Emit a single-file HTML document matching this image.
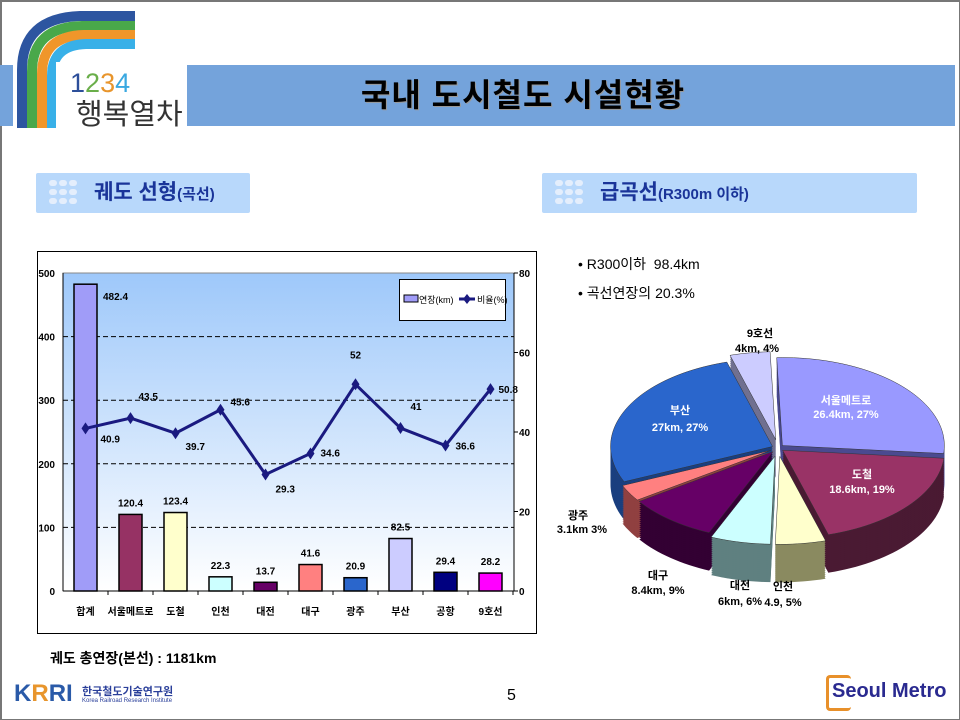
<!DOCTYPE html>
<html><head><meta charset="utf-8">
<style>
body{margin:0;width:960px;height:720px;overflow:hidden;background:#fff;font-family:"Liberation Sans","Noto Sans CJK KR",sans-serif;}
#s{position:absolute;left:0;top:0;border:1px solid #777;border-left-width:2px;border-top-width:2px;box-sizing:border-box;width:960px;height:720px;}
.band{position:absolute;background:#74a3db;top:65px;height:61px;}
.title{position:absolute;left:323px;width:400px;top:65px;height:61px;line-height:61px;text-align:center;font-size:32px;font-weight:bold;color:#000;text-shadow:1px 1px 0 #999;letter-spacing:1px}
.sec{position:absolute;top:173px;height:40px;background:#b8d8fb;border-radius:2px}
.sec .t{position:absolute;left:58px;top:0;line-height:40px;font-size:21px;font-weight:bold;color:#1a3499;white-space:nowrap}
.sec .t small{font-size:15px}
.dots{position:absolute;left:13px;top:7px;width:30px;height:26px}
.dots i{position:absolute;width:8px;height:6px;border-radius:3px;background:#e4eefc}
.txt{position:absolute;font-size:14px;color:#000;white-space:nowrap}
</style></head><body>
<div id="s"></div>
<div class="band" style="left:0;width:13px"></div>
<div class="band" style="left:187px;width:768px"></div>
<div class="title">국내 도시철도 시설현황</div>
<svg style="position:absolute;left:0;top:0" width="190" height="130">
<path d="M22 128 V70 Q22 18 80 16 H135" stroke="#2d55a0" stroke-width="10" fill="none"/>
<path d="M32 128 V72 Q32 27 82 26 H135" stroke="#49a84a" stroke-width="10" fill="none"/>
<path d="M42 128 V74 Q42 36 84 35 H135" stroke="#f0962a" stroke-width="10" fill="none"/>
<path d="M52 128 V76 Q52 45 86 44 H135" stroke="#38b0e8" stroke-width="10" fill="none"/>
<rect x="56" y="62" width="130" height="66" fill="#fff"/>
<text x="70" y="92" font-size="27" font-family="Liberation Sans" ><tspan fill="#2d4f9a">1</tspan><tspan fill="#6aae4a">2</tspan><tspan fill="#e8952c">3</tspan><tspan fill="#3aa8e0">4</tspan></text>
<text x="76" y="124" font-size="29" fill="#333" font-family="Liberation Sans, Noto Sans CJK KR, sans-serif">행복열차</text>
</svg>
<div class="sec" style="left:36px;width:214px"><div class="dots" id="d1"></div><div class="t">궤도 선형<small>(곡선)</small></div></div>
<div class="sec" style="left:542px;width:375px"><div class="dots" id="d2"></div><div class="t">급곡선<small>(R300m 이하)</small></div></div>
<div class="txt" style="left:578px;top:254px">• R300이하 &nbsp;98.4km</div>
<div class="txt" style="left:578px;top:283px">• 곡선연장의 20.3%</div>
<div class="txt" style="left:50px;top:648px;font-weight:bold">궤도 총연장(본선) : 1181km</div>
<div class="txt" style="left:507px;top:687px;font-size:16px">5</div>
<svg id="chart" style="position:absolute;left:0;top:0" width="960" height="720"></svg>
<div style="position:absolute;left:14px;top:680px;font-size:24px;font-weight:bold;color:#2a5aa8;font-family:'Liberation Sans'">K<span style="color:#e8952c">R</span>RI</div>
<div style="position:absolute;left:82px;top:683px;font-size:11px;color:#2a3f9a;font-weight:bold">한국철도기술연구원</div>
<div style="position:absolute;left:82px;top:698px;font-size:6px;color:#2a3f9a">Korea Railroad Research Institute</div>
<div style="position:absolute;left:826px;top:675px;width:22px;height:30px;border:3px solid #e8902a;border-right:none;border-radius:4px"></div>
<div style="position:absolute;left:832px;top:680px;font-size:20px;font-weight:bold;color:#2a2a90">Seoul Metro</div>
<script>
function dots(id){var d=document.getElementById(id);for(var r=0;r<3;r++)for(var c=0;c<3;c++){var i=document.createElement('i');i.style.left=(c*10)+'px';i.style.top=(r*9)+'px';d.appendChild(i);}}
dots('d1');dots('d2');
var s='';
s+='<defs><linearGradient id="g" x1="0" y1="0" x2="0" y2="1"><stop offset="0" stop-color="#9ec8fa"/><stop offset="1" stop-color="#ffffff"/></linearGradient></defs>';
s+='<rect x="37.5" y="251.5" width="499" height="382" fill="#fff" stroke="#000"/>';
var L=63,R=514,T=273,B=591;
s+='<rect x="'+L+'" y="'+T+'" width="'+(R-L)+'" height="'+(B-T)+'" fill="url(#g)" stroke="#888"/>';
for(var v=100;v<=400;v+=100){var y=B-v*(B-T)/500;s+='<line x1="'+L+'" x2="'+R+'" y1="'+y+'" y2="'+y+'" stroke="#000" stroke-dasharray="5,3"/>';}
s+='<line x1="'+L+'" x2="'+L+'" y1="'+T+'" y2="'+B+'" stroke="#000"/><line x1="'+R+'" x2="'+R+'" y1="'+T+'" y2="'+B+'" stroke="#000"/><line x1="'+L+'" x2="'+R+'" y1="'+B+'" y2="'+B+'" stroke="#000"/>';
for(var v=0;v<=500;v+=100){var y=B-v*(B-T)/500;s+='<text x="55" y="'+(y+4)+'" font-size="10" text-anchor="end" font-weight="bold">'+v+'</text>';}
for(var v=0;v<=80;v+=20){var y=B-v*(B-T)/80;s+='<line x1="'+R+'" x2="'+(R+4)+'" y1="'+y+'" y2="'+y+'" stroke="#000"/><text x="519" y="'+(y+4)+'" font-size="10" font-weight="bold">'+v+'</text>';}
var cats=['합계','서울메트로','도철','인천','대전','대구','광주','부산','공항','9호선'];
var bars=[482.4,120.4,123.4,22.3,13.7,41.6,20.9,82.5,29.4,28.2];
var col=['#a09cf8','#963264','#ffffcc','#ccffff','#660066','#ff8080','#2a66cc','#ccccff','#000080','#ff00ff'];
var ln=[40.9,43.5,39.7,45.6,29.3,34.6,52,41,36.6,50.8];
var lo=[[15,14],[8,-18],[10,17],[10,-4],[10,18],[10,3],[0,-26],[10,-18],[10,4],[8,4]];
var pts=[];
for(var i=0;i<10;i++){var cx=L+22.5+45*i;var y=B-bars[i]*(B-T)/500;
s+='<line x1="'+(L+45*(i+1))+'" x2="'+(L+45*(i+1))+'" y1="'+B+'" y2="'+(B+4)+'" stroke="#000"/>';
s+='<rect x="'+(cx-11.5)+'" y="'+y+'" width="23" height="'+(B-y)+'" fill="'+col[i]+'" stroke="#000" stroke-width="1.5"/>';
s+='<text x="'+(i==0?cx+30:cx)+'" y="'+(i==0?y+16:y-8)+'" font-size="10" text-anchor="middle" font-weight="bold">'+bars[i]+'</text>';
s+='<text x="'+cx+'" y="615" font-size="10" text-anchor="middle" font-weight="bold">'+cats[i]+'</text>';
var ly=B-ln[i]*(B-T)/80;pts.push(cx+','+ly);
s+='<text x="'+(cx+lo[i][0])+'" y="'+(ly+lo[i][1])+'" font-size="10" font-weight="bold"'+(i==6?' text-anchor="middle"':'')+'>'+ln[i]+'</text>';}
s+='<polyline points="'+pts.join(' ')+'" fill="none" stroke="#1a1a80" stroke-width="3"/>';
pts.forEach(function(p){var a=p.split(',');s+='<path d="M'+a[0]+' '+(a[1]-6)+' L'+(+a[0]+4)+' '+a[1]+' L'+a[0]+' '+(+a[1]+6)+' L'+(a[0]-4)+' '+a[1]+'Z" fill="#1a1a80"/>';});
s+='<rect x="399.5" y="279.5" width="106" height="41" fill="#fff" stroke="#000"/>';
s+='<rect x="404" y="295" width="14" height="7" fill="#a09cf8" stroke="#000"/><text x="419" y="303" font-size="9">연장(km)</text>';
s+='<line x1="459" x2="475" y1="299" y2="299" stroke="#1a1a80" stroke-width="3"/><path d="M467 294 L471 299 L467 304 L463 299Z" fill="#1a1a80"/><text x="477" y="303" font-size="9">비율(%)</text>';
var cx=778,cy=448,rx=162,ry=88,D=38;
var sl=[[27,'#9999ff','#4a4a90',6],[19,'#993366','#4a1a33',6],[5,'#ffffcc','#8a8a60',14],[6,'#ccffff','#5f8080',14],[9,'#660066','#330033',8],[3,'#ff8080','#904040',8],[27,'#2a66cc','#1a3f7f',6],[4,'#ccccff','#707090',14]];
var a=-2,arr=[];
sl.forEach(function(q){var a0=a,a1=a+q[0]*3.6;a=a1;var m=(a0+a1)/2*Math.PI/180;arr.push({a0:a0,a1:a1,dx:q[3]*Math.sin(m),dy:-q[3]*Math.cos(m)*0.6,c:q[1],d:q[2],my:-Math.cos(m)});});
function sec(o,off){var x0=cx+o.dx,y0=cy+o.dy+off;var p='M'+x0+' '+y0;for(var t=o.a0;t<=o.a1+0.01;t+=2){var r=Math.min(t,o.a1)*Math.PI/180;p+=' L'+(x0+rx*Math.sin(r))+' '+(y0-ry*Math.cos(r));}var r=o.a1*Math.PI/180;p+=' L'+(x0+rx*Math.sin(r))+' '+(y0-ry*Math.cos(r))+'Z';return p;}
arr.sort(function(p,q){return p.my-q.my;});
arr.forEach(function(o){for(var k=D;k>0;k-=2)s+='<path d="'+sec(o,k)+'" fill="'+o.d+'"/>';s+='<path d="'+sec(o,0)+'" fill="'+o.c+'" stroke="#333" stroke-width="0.5"/>';});
var lb=[['9호선',760,337,'#000'],['4km, 4%',757,352,'#000'],['서울메트로',846,404,'#fff'],['26.4km, 27%',846,418,'#fff'],['도철',862,478,'#fff'],['18.6km, 19%',862,493,'#fff'],['인천',783,590,'#000'],['4.9, 5%',783,606,'#000'],['대전',740,589,'#000'],['6km, 6%',740,605,'#000'],['대구',658,579,'#000'],['8.4km, 9%',658,594,'#000'],['광주',578,519,'#000'],['3.1km 3%',582,533,'#000'],['부산',680,414,'#fff'],['27km, 27%',680,431,'#fff']];
lb.forEach(function(l){s+='<text x="'+l[1]+'" y="'+l[2]+'" font-size="11" font-weight="bold" text-anchor="middle" fill="'+l[3]+'">'+l[0]+'</text>';});
document.getElementById('chart').innerHTML=s;
</script>
</body></html>
